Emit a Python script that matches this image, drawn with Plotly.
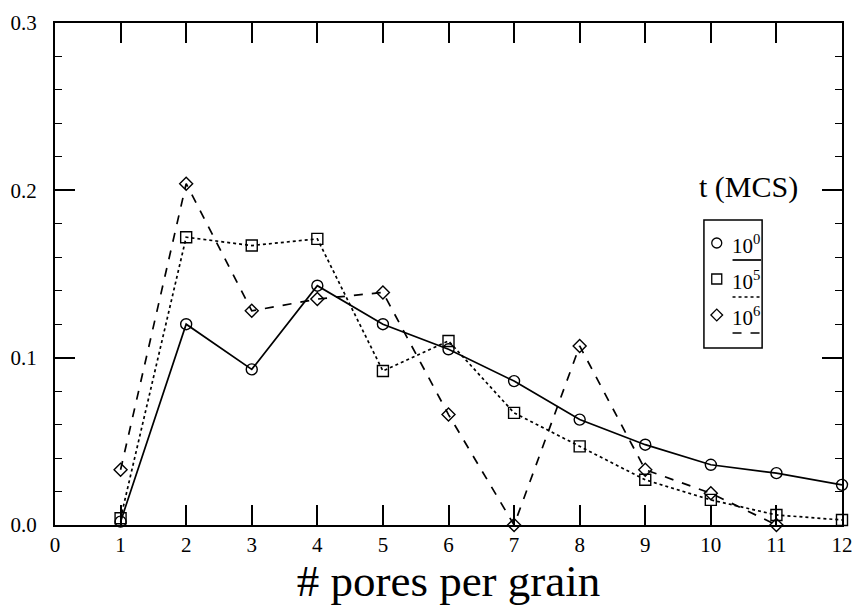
import plotly.graph_objects as go

# ---- data ----
pores = [1, 2, 3, 4, 5, 6, 7, 8, 9, 10, 11, 12]
t_1e0 = [0.002, 0.120, 0.093, 0.143, 0.120, 0.105, 0.086, 0.063, 0.048, 0.036, 0.031, 0.024]
t_1e5 = [0.004, 0.172, 0.167, 0.171, 0.092, 0.110, 0.067, 0.047, 0.027, 0.015, 0.006, 0.003]
pores_1e6 = [1, 2, 3, 4, 5, 6, 7, 8, 9, 10, 11]
t_1e6 = [0.033, 0.204, 0.128, 0.135, 0.139, 0.066, 0.0, 0.107, 0.033, 0.019, 0.0]

legend_labels = ["10<sup>0</sup>", "10<sup>5</sup>", "10<sup>6</sup>"]
legend_symbols = ["circle-open", "square-open", "diamond-open"]
legend_dashes = ["solid", "dot", "dash"]

FONT = "Liberation Serif"
W, H = 862, 606
L, R, T, B = 55, 9, 23, 81

fig = go.Figure()

series = [
    (pores, t_1e0, "circle-open", 11, "solid"),
    (pores, t_1e5, "square-open", 11, "dot"),
    (pores_1e6, t_1e6, "diamond-open", 10, "dash"),
]
for xs, ys, sym, size, dash in series:
    fig.add_trace(go.Scatter(
        x=xs, y=ys, mode="lines+markers",
        line=dict(color="black", width=1.7, dash=dash),
        marker=dict(symbol=sym, size=size, color="black", line=dict(width=1.4, color="black")),
        cliponaxis=False, showlegend=False,
    ))

# ---- custom legend drawn on a pixel-based overlay axis ----
row_y = [243, 279, 315]
under_y = [260, 297, 333]
for i in range(3):
    fig.add_trace(go.Scatter(
        x=[726], y=[row_y[i]], xaxis="x2", yaxis="y2", mode="markers",
        marker=dict(symbol=legend_symbols[i], size=10 if i < 2 else 9, color="black",
                    line=dict(width=1.3, color="black")),
        showlegend=False, hoverinfo="skip",
    ))
    fig.add_trace(go.Scatter(
        x=[742, 771], y=[under_y[i], under_y[i]], xaxis="x2", yaxis="y2", mode="lines",
        line=dict(color="black", width=1.7, dash=legend_dashes[i]),
        showlegend=False, hoverinfo="skip",
    ))
    fig.add_annotation(x=739, y=row_y[i] + 1, xref="x2", yref="y2", text=legend_labels[i],
                       showarrow=False, xanchor="left", yanchor="middle",
                       font=dict(family=FONT, size=21, color="black"))

fig.add_shape(type="rect", x0=713, x1=772, y0=220, y1=348, xref="x2", yref="y2",
              line=dict(color="black", width=1.5))
fig.add_annotation(x=758, y=187, xref="x2", yref="y2", text="t (MCS)", showarrow=False,
                   xanchor="center", yanchor="middle",
                   font=dict(family=FONT, size=30, color="black"))

fig.update_layout(
    width=W, height=H,
    margin=dict(l=L, r=R, t=T, b=B, pad=0),
    paper_bgcolor="white", plot_bgcolor="white",
    font=dict(family=FONT, color="black", size=20),
    xaxis=dict(
        range=[0, 12], tickmode="linear", tick0=0, dtick=1,
        ticks="inside", ticklen=20, tickwidth=1.5, tickcolor="black",
        showline=True, linewidth=2, linecolor="black", mirror="ticks",
        showgrid=False, zeroline=False,
        tickfont=dict(family=FONT, size=21),
        title=dict(text="# pores per grain", font=dict(family=FONT, size=45), standoff=0),
    ),
    yaxis=dict(
        range=[0, 0.3], tickmode="linear", tick0=0, dtick=0.1, tickformat=".1f",
        ticks="inside", ticklen=20, tickwidth=1.5, tickcolor="black",
        minor=dict(dtick=0.02, ticks="inside", ticklen=7, tickwidth=1.2, tickcolor="black"),
        showline=True, linewidth=2, linecolor="black", mirror="ticks",
        showgrid=False, zeroline=False,
        tickfont=dict(family=FONT, size=21),
        ticklabelstandoff=12,
    ),
    xaxis2=dict(range=[L, W - R], overlaying="x", visible=False, fixedrange=True),
    yaxis2=dict(range=[H - B, T], overlaying="y", visible=False, fixedrange=True),
    showlegend=False,
)

fig.write_html("out.html")
